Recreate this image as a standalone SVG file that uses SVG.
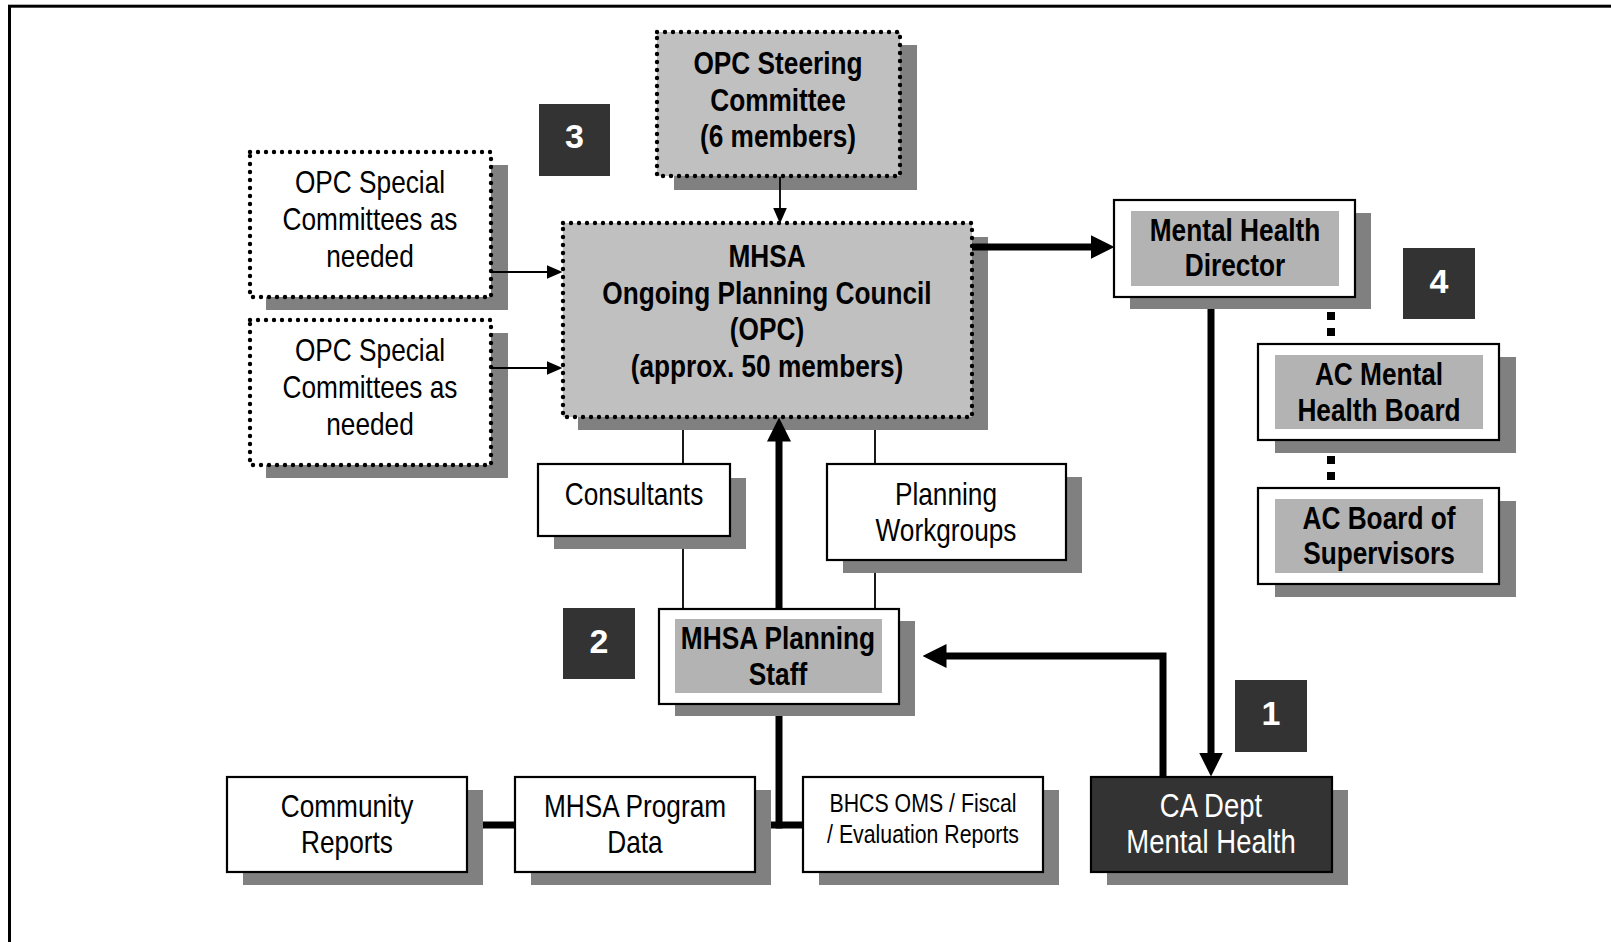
<svg xmlns="http://www.w3.org/2000/svg" width="1611" height="942" viewBox="0 0 1611 942">
<defs>
<style>
.t{font-family:'Liberation Sans',Arial,sans-serif;font-size:32px;text-anchor:middle;fill:#000}
.b{font-weight:bold}
.w{fill:#fff;font-size:33.5px}
.sm{font-size:26px}
.sh{fill:#808080}
.box{fill:#fff;stroke:#000;stroke-width:2.2}
.inner{fill:#b3b3b3}
.dark{fill:#333;stroke:#000;stroke-width:2.2}
.dotw{fill:#fff;stroke:#000;stroke-width:4.4;stroke-dasharray:0 8;stroke-linecap:round}
.dotg{fill:#c0c0c0;stroke:#000;stroke-width:4.4;stroke-dasharray:0 8;stroke-linecap:round}
.badge{fill:#333}
.num{font-family:'Liberation Sans',Arial,sans-serif;font-weight:bold;font-size:34px;fill:#fff;text-anchor:middle}
.thin{fill:none;stroke:#000;stroke-width:1.8}
.thick{fill:none;stroke:#000;stroke-width:7}
</style>
<marker id="ah" viewBox="0 0 24 24" markerWidth="24" markerHeight="24" refX="0.5" refY="12" orient="auto" markerUnits="userSpaceOnUse"><path d="M0,0 L24,12 L0,24 z" fill="#000"/></marker>
<marker id="at" viewBox="0 0 16 14" markerWidth="16" markerHeight="14" refX="0.5" refY="7" orient="auto" markerUnits="userSpaceOnUse"><path d="M0,0 L16,7 L0,14 z" fill="#000"/></marker>
</defs>
<rect width="1611" height="942" fill="#fff"/>
<rect x="9.5" y="6.2" width="1700" height="1000" fill="none" stroke="#000" stroke-width="3"/>

<g id="steering">
<rect class="sh" x="674" y="45" width="243" height="145"/>
<rect class="dotg" x="657" y="32" width="243" height="144"/>
<text class="t b" transform="translate(778 74) scale(0.82 1)">OPC Steering</text>
<text class="t b" transform="translate(778 111) scale(0.82 1)">Committee</text>
<text class="t b" transform="translate(778 147) scale(0.82 1)">(6 members)</text>
</g>

<g id="special1">
<rect class="sh" x="266" y="165" width="242" height="145"/>
<rect class="dotw" x="250" y="152" width="241" height="145"/>
<text class="t" transform="translate(370 193) scale(0.82 1)">OPC Special</text>
<text class="t" transform="translate(370 230) scale(0.82 1)">Committees as</text>
<text class="t" transform="translate(370 267) scale(0.82 1)">needed</text>
</g>

<g id="special2">
<rect class="sh" x="266" y="333" width="242" height="145"/>
<rect class="dotw" x="250" y="320" width="241" height="145"/>
<text class="t" transform="translate(370 361) scale(0.82 1)">OPC Special</text>
<text class="t" transform="translate(370 398) scale(0.82 1)">Committees as</text>
<text class="t" transform="translate(370 435) scale(0.82 1)">needed</text>
</g>

<g id="opc">
<rect class="sh" x="578" y="237" width="410" height="193"/>
<rect class="dotg" x="563" y="223" width="409" height="194"/>
<text class="t b" transform="translate(767 267) scale(0.82 1)">MHSA</text>
<text class="t b" transform="translate(767 304) scale(0.82 1)">Ongoing Planning Council</text>
<text class="t b" transform="translate(767 340) scale(0.82 1)">(OPC)</text>
<text class="t b" transform="translate(767 377) scale(0.82 1)">(approx. 50 members)</text>
</g>

<g id="mhd">
<rect class="sh" x="1130" y="213" width="241" height="96"/>
<rect class="box" x="1114" y="200" width="241" height="97"/>
<rect class="inner" x="1131" y="211" width="208" height="75"/>
<text class="t b" transform="translate(1235 241) scale(0.82 1)">Mental Health</text>
<text class="t b" transform="translate(1235 276) scale(0.82 1)">Director</text>
</g>

<g id="acmhb">
<rect class="sh" x="1275" y="357" width="241" height="96"/>
<rect class="box" x="1258" y="344" width="241" height="96"/>
<rect class="inner" x="1275" y="355" width="208" height="74"/>
<text class="t b" transform="translate(1379 385) scale(0.82 1)">AC Mental</text>
<text class="t b" transform="translate(1379 421) scale(0.82 1)">Health Board</text>
</g>

<g id="acbos">
<rect class="sh" x="1275" y="501" width="241" height="96"/>
<rect class="box" x="1258" y="488" width="241" height="96"/>
<rect class="inner" x="1275" y="499" width="208" height="74"/>
<text class="t b" transform="translate(1379 529) scale(0.82 1)">AC Board of</text>
<text class="t b" transform="translate(1379 564) scale(0.82 1)">Supervisors</text>
</g>

<g id="consultants">
<rect class="sh" x="554" y="478" width="192" height="71"/>
<rect class="box" x="538" y="464" width="192" height="72"/>
<text class="t" transform="translate(634 505) scale(0.82 1)">Consultants</text>
</g>

<g id="workgroups">
<rect class="sh" x="843" y="477" width="239" height="96"/>
<rect class="box" x="827" y="464" width="239" height="96"/>
<text class="t" transform="translate(946 505) scale(0.82 1)">Planning</text>
<text class="t" transform="translate(946 541) scale(0.82 1)">Workgroups</text>
</g>

<g id="staff">
<rect class="sh" x="675" y="621" width="240" height="95"/>
<rect class="box" x="659" y="609" width="240" height="95"/>
<rect class="inner" x="675" y="619" width="207" height="74"/>
<text class="t b" transform="translate(778 649) scale(0.82 1)">MHSA Planning</text>
<text class="t b" transform="translate(778 685) scale(0.82 1)">Staff</text>
</g>

<g id="community">
<rect class="sh" x="243" y="790" width="240" height="95"/>
<rect class="box" x="227" y="777" width="240" height="95"/>
<text class="t" transform="translate(347 817) scale(0.82 1)">Community</text>
<text class="t" transform="translate(347 853) scale(0.82 1)">Reports</text>
</g>

<g id="programdata">
<rect class="sh" x="531" y="790" width="240" height="95"/>
<rect class="box" x="515" y="777" width="240" height="95"/>
<text class="t" transform="translate(635 817) scale(0.82 1)">MHSA Program</text>
<text class="t" transform="translate(635 853) scale(0.82 1)">Data</text>
</g>

<g id="bhcs">
<rect class="sh" x="819" y="790" width="240" height="95"/>
<rect class="box" x="803" y="777" width="240" height="95"/>
<text class="t sm" transform="translate(923 812) scale(0.82 1)">BHCS OMS / Fiscal</text>
<text class="t sm" transform="translate(923 843) scale(0.82 1)">/ Evaluation Reports</text>
</g>

<g id="cadmh">
<rect class="sh" x="1107" y="790" width="241" height="95"/>
<rect class="dark" x="1091" y="777" width="241" height="95"/>
<text class="t w" transform="translate(1211 817) scale(0.82 1)">CA Dept</text>
<text class="t w" transform="translate(1211 853) scale(0.82 1)">Mental Health</text>
</g>

<g id="badge3"><rect class="badge" x="539" y="104" width="71" height="72"/><text class="num" x="574.5" y="148">3</text></g>
<g id="badge4"><rect class="badge" x="1403" y="248" width="72" height="71"/><text class="num" x="1439" y="293">4</text></g>
<g id="badge2"><rect class="badge" x="563" y="608" width="72" height="71"/><text class="num" x="599" y="653">2</text></g>
<g id="badge1"><rect class="badge" x="1235" y="680" width="72" height="72"/><text class="num" x="1271" y="725">1</text></g>

<g id="connectors">
<path class="thin" d="M780,177 V208" marker-end="url(#at)"/>
<path class="thin" d="M491,272 H547" marker-end="url(#at)"/>
<path class="thin" d="M491,368 H547" marker-end="url(#at)"/>
<path class="thin" d="M683,430 V464 M683,549 V609"/>
<path class="thin" d="M875,430 V464 M875,573 V609"/>
<path class="thick" d="M972,247 H1091" marker-end="url(#ah)"/>
<path class="thick" d="M1211,309 V753" marker-end="url(#ah)"/>
<path class="thick" d="M1163,777 V656 H946" marker-end="url(#ah)"/>
<path class="thick" d="M779,609 V441" marker-end="url(#ah)"/>
<path class="thick" d="M779,716 V828.5"/>
<path class="thick" d="M771,825 H803"/>
<path class="thick" d="M483,825 H515"/>
<path d="M1331,312 V336 M1331,456 V480" fill="none" stroke="#000" stroke-width="8" stroke-dasharray="8 8"/>
</g>
</svg>
